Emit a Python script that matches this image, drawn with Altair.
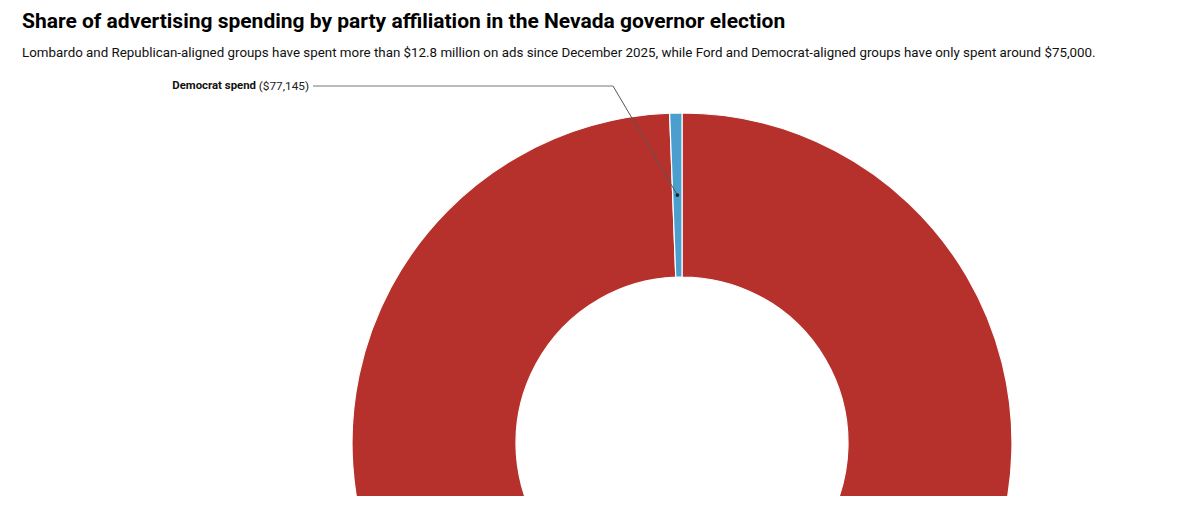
import math
import altair as alt
import pandas as pd

# ---- data ----
parties = ["Republican", "Democrat"]
spend = [12850000, 77145]
colors = ["#b7312c", "#4b9fcf"]

title_text = "Share of advertising spending by party affiliation in the Nevada governor election"
subtitle_text = ("Lombardo and Republican-aligned groups have spent more than $12.8 million on ads since "
                 "December 2025, while Ford and Democrat-aligned groups have only spent around $75,000.")
label_bold = ["Democrat spend"]
label_value = ["($77,145)"]

# ---- layout ----
W, H = 1200, 496
CX, CY = 682, 443
R_OUT, R_IN = 330, 166
R_MID = (R_OUT + R_IN) / 2
FONT = "Roboto"

df = pd.DataFrame({"party": parties, "spend": spend})

base = alt.Chart(df).encode(
    theta=alt.Theta("spend:Q", stack=True),
    order=alt.Order("spend:Q", sort="descending"),
    color=alt.Color("party:N", scale=alt.Scale(domain=parties, range=colors), legend=None),
)

arcs = base.mark_arc(
    outerRadius=R_OUT, innerRadius=R_IN, stroke="white", strokeWidth=1.2, clip=True
).encode(x=alt.value(CX), y=alt.value(CY))

# leader end point: middle of the Democrat slice
total = sum(spend)
mid = (spend[0] + spend[1] / 2) / total * 2 * math.pi
dot_x = CX + R_MID * math.sin(mid)
dot_y = CY - R_MID * math.cos(mid)

one = alt.Data(values=[{"k": 1}])
LX0, LX1, LY = 313, 613, 86

rule_h = alt.Chart(one).mark_rule(color="#777", strokeWidth=1).encode(
    x=alt.value(LX0), x2=alt.value(LX1), y=alt.value(LY), y2=alt.value(LY)
)
rule_d = alt.Chart(one).mark_rule(color="#555", strokeWidth=1).encode(
    x=alt.value(LX1), x2=alt.value(dot_x), y=alt.value(LY), y2=alt.value(dot_y)
)
dot = alt.Chart(one).mark_point(filled=True, size=14, color="#222", opacity=1).encode(
    x=alt.value(dot_x), y=alt.value(dot_y)
)

title = alt.Chart(pd.DataFrame({"t": [title_text]})).mark_text(
    align="left", baseline="alphabetic", font=FONT, fontSize=21, fontWeight="bold", color="#000"
).encode(x=alt.value(22), y=alt.value(28), text="t:N")

subtitle = alt.Chart(pd.DataFrame({"t": [subtitle_text]})).mark_text(
    align="left", baseline="alphabetic", font=FONT, fontSize=13.35, color="#111"
).encode(x=alt.value(22), y=alt.value(57), text="t:N")

lab1 = alt.Chart(pd.DataFrame({"t": label_bold})).mark_text(
    align="right", baseline="middle", font=FONT, fontSize=11.4, fontWeight="bold", color="#111"
).encode(x=alt.value(256), y=alt.value(LY), text="t:N")

lab2 = alt.Chart(pd.DataFrame({"t": label_value})).mark_text(
    align="right", baseline="middle", font=FONT, fontSize=11.8, color="#222"
).encode(x=alt.value(309), y=alt.value(LY), text="t:N")

chart = alt.layer(arcs, rule_h, rule_d, dot, title, subtitle, lab1, lab2).properties(
    width=W, height=H, padding=0
).configure_view(stroke=None)

chart.save("out.html", embed_options={"renderer": "svg", "actions": False})
